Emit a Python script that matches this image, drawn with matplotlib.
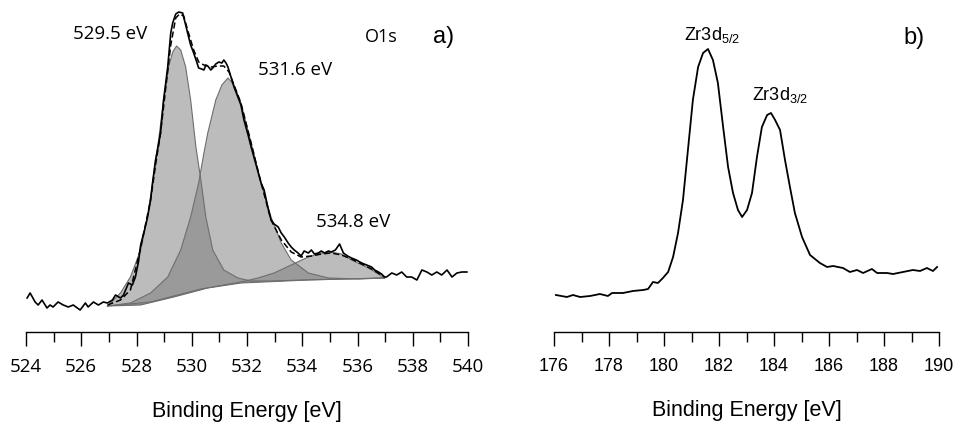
#XPS spectra: O1s with fitted components (a) and Zr3d doublet (b)
import matplotlib
matplotlib.use("Agg")
import matplotlib.pyplot as plt
from matplotlib.ticker import MultipleLocator

plt.rcParams["mathtext.fontset"] = "custom"
plt.rcParams["mathtext.rm"] = "Liberation Sans"
plt.rcParams["mathtext.it"] = "Liberation Sans"


#panel a) measured O1s spectrum (binding energy [eV], intensity [a.u.])
o1s_e = [524.04, 524.15, 524.33, 524.44, 524.58, 524.76, 524.87, 524.98, 525.16, 525.35,
         525.53, 525.71, 525.96, 526.15, 526.25, 526.44, 526.62, 526.80, 526.95, 527.13,
         527.24, 527.42, 527.53, 527.71, 527.85, 527.96, 528.07, 528.15, 528.29, 528.40,
         528.51, 528.58, 528.69, 528.76, 528.87, 528.98, 529.13, 529.24, 529.31, 529.42,
         529.53, 529.67, 529.78, 529.85, 529.96, 530.07, 530.18, 530.25, 530.36, 530.44,
         530.51, 530.58, 530.69, 530.76, 530.87, 530.98, 531.09, 531.16, 531.24, 531.31,
         531.42, 531.53, 531.67, 531.78, 531.89, 532.04, 532.15, 532.25, 532.40, 532.51,
         532.62, 532.76, 532.87, 532.98, 533.13, 533.24, 533.35, 533.49, 533.60, 533.71,
         533.85, 533.96, 534.07, 534.22, 534.33, 534.44, 534.58, 534.69, 534.80, 534.95,
         535.05, 535.20, 535.35, 535.49, 535.64, 535.78, 535.96, 536.15, 536.33, 536.51,
         536.62, 536.76, 536.87, 536.98, 537.05, 537.24, 537.42, 537.60, 537.78, 537.96,
         538.15, 538.33, 538.51, 538.69, 538.87, 539.05, 539.24, 539.42, 539.60, 539.78,
         539.96]
o1s_i = [34, 39, 30, 27, 32, 24, 27, 25, 30, 27,
         25, 27, 22, 29, 25, 30, 27, 30, 29, 32,
         37, 34, 37, 49, 47, 55, 70, 87, 102, 115,
         132, 149, 172, 182, 199, 232, 265, 299, 309, 318,
         320, 319, 307, 299, 287, 279, 270, 264, 263, 262,
         267, 266, 262, 264, 268, 270, 269, 272, 269, 265,
         255, 245, 235, 227, 212, 197, 185, 175, 160, 149,
         142, 124, 112, 108, 105, 99, 95, 89, 85, 82,
         79, 76, 81, 79, 82, 78, 79, 81, 79, 81,
         80, 82, 88, 79, 76, 74, 72, 69, 67, 65,
         62, 60, 58, 55, 55, 59, 57, 60, 55, 55,
         52, 62, 60, 57, 60, 57, 62, 55, 59, 60,
         60]

#fitted envelope (dashed)
env_e = [526.95, 527.42, 527.78, 528.15, 528.51, 528.69, 528.87, 529.05, 529.24, 529.42,
         529.56, 529.71, 529.85, 530.07, 530.25, 530.44, 530.69, 530.95, 531.16, 531.35,
         531.53, 531.78, 532.15, 532.51, 532.87, 533.24, 533.60, 533.96, 534.33, 534.69,
         535.05, 535.42, 535.78, 536.15, 536.51, 536.98]
env_i = [27, 32, 42, 84, 132, 167, 199, 242, 287, 314,
         318, 316, 302, 282, 270, 267, 265, 266, 266, 260,
         247, 229, 189, 149, 112, 92, 80, 75, 76, 78,
         79, 77, 73, 68, 63, 55]

#Shirley background
bg_e = [526.95, 528.15, 529.35, 530.58, 531.78, 534.22, 536.98]
bg_i = [26, 27, 35, 44, 49, 52, 54]

#fitted components: 529.5 eV, 531.6 eV, 534.8 eV
c1_e = [526.95, 527.42, 527.78, 528.15, 528.40, 528.58, 528.69, 528.80, 528.98, 529.16,
        529.31, 529.45, 529.60, 529.78, 529.96, 530.15, 530.33, 530.51, 530.76, 531.16,
        531.67, 532.15, 532.87, 533.96, 536.98]
c1_i = [26, 39, 55, 82, 115, 149, 172, 192, 232, 265,
        280, 286, 282, 265, 232, 185, 152, 115, 82, 62,
        54, 51, 51, 52, 54]
c2_e = [526.95, 527.78, 528.51, 529.13, 529.60, 529.96, 530.25, 530.44, 530.58, 530.87,
        531.09, 531.31, 531.53, 531.78, 532.15, 532.51, 532.87, 533.24, 533.60, 534.22,
        534.95, 536.04, 536.98]
c2_i = [26, 29, 39, 55, 82, 115, 149, 179, 199, 232,
        247, 254, 247, 229, 189, 149, 115, 89, 72, 59,
        54, 53, 54]
c3_e = [526.95, 528.51, 530.33, 531.78, 532.40, 532.98, 533.60, 534.22, 534.69, 535.05,
        535.42, 535.78, 536.40, 536.98]
c3_i = [26, 30, 43, 50, 54, 59, 67, 75, 79, 80,
        78, 72, 64, 54]


#panel b) Zr3d spectrum
zr_e = [176.07, 176.47, 176.69, 176.95, 177.31, 177.67, 177.96, 178.11, 178.51, 178.87,
        179.24, 179.42, 179.60, 179.78, 179.96, 180.15, 180.33, 180.51, 180.69, 180.87,
        181.05, 181.24, 181.42, 181.60, 181.78, 181.96, 182.15, 182.33, 182.51, 182.69,
        182.84, 183.02, 183.20, 183.38, 183.56, 183.75, 183.89, 184.04, 184.22, 184.40,
        184.58, 184.76, 185.02, 185.31, 185.67, 185.93, 186.15, 186.51, 186.76, 187.02,
        187.24, 187.56, 187.75, 188.11, 188.33, 188.69, 189.05, 189.31, 189.56, 189.78,
        189.93]
zr_i = [37, 35, 37, 35, 36, 38, 36, 39, 39, 41,
        42, 43, 50, 49, 54, 60, 75, 99, 132, 182,
        232, 265, 279, 283, 272, 249, 205, 165, 139, 122,
        115, 122, 139, 175, 205, 217, 219, 212, 202, 172,
        145, 119, 95, 77, 69, 65, 66, 64, 60, 62,
        59, 63, 59, 59, 58, 60, 62, 61, 64, 61,
        65]


fig = plt.figure(figsize=(9.57, 4.26), dpi=100)
ax1 = fig.add_axes([26 / 957, 94 / 426, 442 / 957, 332 / 426])
ax2 = fig.add_axes([554 / 957, 94 / 426, 385 / 957, 332 / 426])

#component fills, closed against the background line
for ce, ci in [(c1_e, c1_i), (c2_e, c2_i), (c3_e, c3_i)]:
    ax1.fill(ce + bg_e[::-1], ci + bg_i[::-1], facecolor="#7a7a7a", alpha=0.5, edgecolor="none")
    ax1.plot(ce, ci, color="#6e6e6e", lw=0.8)
ax1.plot(bg_e, bg_i, color="#6e6e6e", lw=0.8)

ax1.plot(env_e, env_i, color="black", lw=1.1, dashes=(4, 2))
ax1.plot(o1s_e, o1s_i, color="black", lw=1.2)

ax2.plot(zr_e, zr_i, color="black", lw=1.3)

lab_font = ["Open Sans", "DejaVu Sans"]
ax1.text(527.05, 298, "529.5 eV", fontsize=13.5, family=lab_font, ha="center", va="center")
ax1.text(533.75, 262, "531.6 eV", fontsize=13.5, family=lab_font, ha="center", va="center")
ax1.text(535.85, 110, "534.8 eV", fontsize=13.5, family=lab_font, ha="center", va="center")
ax1.text(536.87, 295, "O1s", fontsize=13, family=lab_font, ha="center", va="center")
ax1.text(539.13, 295, "a)", fontsize=17, family="Liberation Sans", ha="center", va="center")

ax2.text(181.75, 297, r"Zr3d$_{5/2}$", fontsize=13, family="Liberation Sans", ha="center", va="center")
ax2.text(184.22, 237, r"Zr3d$_{3/2}$", fontsize=13, family="Liberation Sans", ha="center", va="center")
ax2.text(189.09, 294, "b)", fontsize=17, family="Liberation Sans", ha="center", va="center")

for ax, lo, hi, tfont, tsize in [(ax1, 524, 540, "Open Sans", 13.5), (ax2, 176, 190, "Liberation Sans", 13)]:
    ax.set_xlim(lo, hi)
    ax.set_ylim(0, 332)
    for s in ["top", "right", "left"]:
        ax.spines[s].set_visible(False)
    ax.spines["bottom"].set_linewidth(1.0)
    ax.set_yticks([])
    ax.xaxis.set_major_locator(MultipleLocator(2))
    ax.xaxis.set_minor_locator(MultipleLocator(1))
    ax.tick_params(axis="x", which="major", length=10, width=1.0, pad=9,
                   labelsize=tsize, labelfontfamily=tfont)
    ax.tick_params(axis="x", which="minor", length=7, width=1.0)
    ax.set_xlabel("Binding Energy [eV]", fontsize=15.5, family="Liberation Sans", labelpad=18)
    ax.patch.set_alpha(0)

fig.savefig("out.png", dpi=100)
